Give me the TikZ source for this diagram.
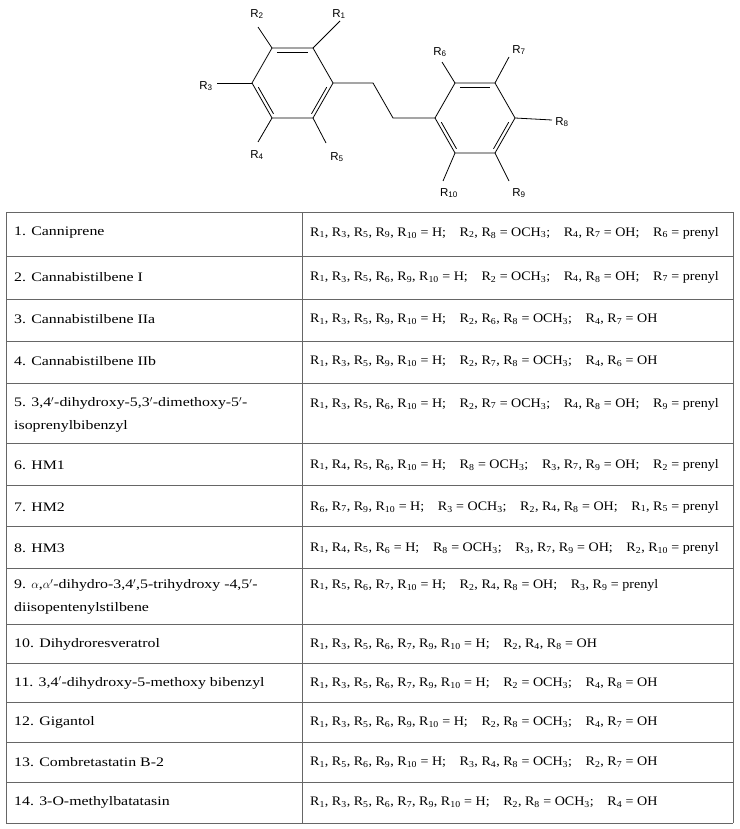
\documentclass[tikz,border=0pt]{standalone}
\usepackage{fontspec}
\usetikzlibrary{calc}
\setmainfont{Liberation Serif}
\newfontfamily\leftfont[FakeStretch=1.22]{Liberation Serif}
\newfontfamily\rightfont[FakeStretch=1.08]{Liberation Serif}
\newfontfamily\chemfont{Liberation Sans}
\newcommand{\Rr}[1]{R\textsubscript{#1}}
\newcommand{\gp}{\hspace{1.05em}}
\begin{document}
\begin{tikzpicture}[x=1pt,y=-1pt,
  bond/.style={line width=0.8pt},
  lab/.style={font=\chemfont\fontsize{11.5}{13}\selectfont, inner sep=0pt},
  cell/.style={anchor=west, font=\leftfont\fontsize{13}{23}\selectfont, inner sep=0pt, align=left},
  rcell/.style={anchor=west, font=\rightfont\fontsize{13}{23}\selectfont, inner sep=0pt, align=left},
  grid/.style={draw=black!60, line width=0.6pt}]
\useasboundingbox (0,0) rectangle (739,829);
% ring A
\coordinate (a1) at (272,48); \coordinate (a2) at (313,48); \coordinate (a3) at (333,83);
\coordinate (a4) at (313,118); \coordinate (a5) at (272,118); \coordinate (a6) at (252,83);
\draw[bond] (a1)--(a2)--(a3)--(a4)--(a5)--(a6)--cycle;
\draw[bond] ($(a1)!0.12!(a2)+(0,4.5)$) -- ($(a1)!0.88!(a2)+(0,4.5)$);
\draw[bond] ($(a3)!0.12!(a4)+(-3.9,0)$) -- ($(a3)!0.88!(a4)+(-3.9,0)$);
\draw[bond] ($(a6)!0.12!(a5)+(3.9,0)$) -- ($(a6)!0.88!(a5)+(3.9,0)$);
% ring B
\coordinate (b1) at (455,83); \coordinate (b2) at (495,83); \coordinate (b3) at (515,118);
\coordinate (b4) at (495,153); \coordinate (b5) at (455,153); \coordinate (b6) at (435,118);
\draw[bond] (b1)--(b2)--(b3)--(b4)--(b5)--(b6)--cycle;
\draw[bond] ($(b1)!0.12!(b2)+(0,4.5)$) -- ($(b1)!0.88!(b2)+(0,4.5)$);
\draw[bond] ($(b3)!0.12!(b4)+(-3.9,0)$) -- ($(b3)!0.88!(b4)+(-3.9,0)$);
\draw[bond] ($(b6)!0.12!(b5)+(3.9,0)$) -- ($(b6)!0.88!(b5)+(3.9,0)$);
% chain
\coordinate (c1) at (373,83); \coordinate (c2) at (393,118);
\draw[bond] (a3)--(c1)--(c2)--(b6);
% labels
\node[lab] (r1) at (339,14) {R\textsubscript{1}};
\node[lab] (r2) at (257,14) {R\textsubscript{2}};
\node[lab] (r3) at (206,86) {R\textsubscript{3}};
\node[lab] (r4) at (257,155) {R\textsubscript{4}};
\node[lab] (r5) at (337,157) {R\textsubscript{5}};
\node[lab] (r6) at (440,52) {R\textsubscript{6}};
\node[lab] (r7) at (519,50) {R\textsubscript{7}};
\node[lab] (r8) at (562,122) {R\textsubscript{8}};
\node[lab] (r9) at (519,193) {R\textsubscript{9}};
\node[lab] (r10) at (449,193) {R\textsubscript{10}};
\draw[bond] (a2)--(340,21); \draw[bond] (a1)--(258,27); \draw[bond] (a6)--(217,83);
\draw[bond] (a5)--(258,142); \draw[bond] (a4)--(326,143);
\draw[bond] (b1)--(442,62); \draw[bond] (b2)--(509,57); \draw[bond] (b3)--(552,120);
\draw[bond] (b4)--(509,181); \draw[bond] (b5)--(443,181);
% table
\foreach \y in {212,256,299,341,383,443,485,526,568,624,663,702,742,782,823}
  \draw[grid] (6,\y) -- (733,\y);
\draw[grid] (6,212)--(6,823); \draw[grid] (302,212)--(302,823); \draw[grid] (733,212)--(733,823);
\def\L{14} \def\Rx{310}
\node[cell] (n1) at (\L,233) {1. Canniprene};
\node[rcell] (v1) at (\Rx,233) {\Rr1, \Rr3, \Rr5, \Rr9, \Rr{10} = H;\gp\Rr2, \Rr8 = OCH\textsubscript3;\gp\Rr4, \Rr7 = OH;\gp\Rr6 = prenyl};
\node[cell] (n2) at (\L,277) {2. Cannabistilbene I};
\node[rcell] (v2) at (\Rx,277) {\Rr1, \Rr3, \Rr5, \Rr6, \Rr9, \Rr{10} = H;\gp\Rr2 = OCH\textsubscript3;\gp\Rr4, \Rr8 = OH;\gp\Rr7 = prenyl};
\node[cell] (n3) at (\L,319) {3. Cannabistilbene IIa};
\node[rcell] (v3) at (\Rx,319) {\Rr1, \Rr3, \Rr5, \Rr9, \Rr{10} = H;\gp\Rr2, \Rr6, \Rr8 = OCH\textsubscript3;\gp\Rr4, \Rr7 = OH};
\node[cell] (n4) at (\L,361) {4. Cannabistilbene IIb};
\node[rcell] (v4) at (\Rx,361) {\Rr1, \Rr3, \Rr5, \Rr9, \Rr{10} = H;\gp\Rr2, \Rr7, \Rr8 = OCH\textsubscript3;\gp\Rr4, \Rr6 = OH};
\node[cell] (n5) at (\L,415) {5. 3,4$'$-dihydroxy-5,3$'$-dimethoxy-5$'$-\\isoprenylbibenzyl};
\node[rcell] (v5) at (\Rx,404) {\Rr1, \Rr3, \Rr5, \Rr6, \Rr{10} = H;\gp\Rr2, \Rr7 = OCH\textsubscript3;\gp\Rr4, \Rr8 = OH;\gp\Rr9 = prenyl};
\node[cell] (n6) at (\L,465) {6. HM1};
\node[rcell] (v6) at (\Rx,465) {\Rr1, \Rr4, \Rr5, \Rr6, \Rr{10} = H;\gp\Rr8 = OCH\textsubscript3;\gp\Rr3, \Rr7, \Rr9 = OH;\gp\Rr2 = prenyl};
\node[cell] (n7) at (\L,507) {7. HM2};
\node[rcell] (v7) at (\Rx,507) {\Rr6, \Rr7, \Rr9, \Rr{10} = H;\gp\Rr3 = OCH\textsubscript3;\gp\Rr2, \Rr4, \Rr8 = OH;\gp\Rr1, \Rr5 = prenyl};
\node[cell] (n8) at (\L,548) {8. HM3};
\node[rcell] (v8) at (\Rx,548) {\Rr1, \Rr4, \Rr5, \Rr6 = H;\gp\Rr8 = OCH\textsubscript3;\gp\Rr3, \Rr7, \Rr9 = OH;\gp\Rr2, \Rr{10} = prenyl};
\node[cell] (n9) at (\L,597) {9. $\alpha$,$\alpha'$-dihydro-3,4$'$,5-trihydroxy -4,5$'$-\\diisopentenylstilbene};
\node[rcell] (v9) at (\Rx,585) {\Rr1, \Rr5, \Rr6, \Rr7, \Rr{10} = H;\gp\Rr2, \Rr4, \Rr8 = OH;\gp\Rr3, \Rr9 = prenyl};
\node[cell] (n10) at (\L,644) {10. Dihydroresveratrol};
\node[rcell] (v10) at (\Rx,644) {\Rr1, \Rr3, \Rr5, \Rr6, \Rr7, \Rr9, \Rr{10} = H;\gp\Rr2, \Rr4, \Rr8 = OH};
\node[cell] (n11) at (\L,683) {11. 3,4$'$-dihydroxy-5-methoxy bibenzyl};
\node[rcell] (v11) at (\Rx,683) {\Rr1, \Rr3, \Rr5, \Rr6, \Rr7, \Rr9, \Rr{10} = H;\gp\Rr2 = OCH\textsubscript3;\gp\Rr4, \Rr8 = OH};
\node[cell] (n12) at (\L,722) {12. Gigantol};
\node[rcell] (v12) at (\Rx,722) {\Rr1, \Rr3, \Rr5, \Rr6, \Rr9, \Rr{10} = H;\gp\Rr2, \Rr8 = OCH\textsubscript3;\gp\Rr4, \Rr7 = OH};
\node[cell] (n13) at (\L,762) {13. Combretastatin B-2};
\node[rcell] (v13) at (\Rx,762) {\Rr1, \Rr5, \Rr6, \Rr9, \Rr{10} = H;\gp\Rr3, \Rr4, \Rr8 = OCH\textsubscript3;\gp\Rr2, \Rr7 = OH};
\node[cell] (n14) at (\L,802) {14. 3-O-methylbatatasin};
\node[rcell] (v14) at (\Rx,802) {\Rr1, \Rr3, \Rr5, \Rr6, \Rr7, \Rr9, \Rr{10} = H;\gp\Rr2, \Rr8 = OCH\textsubscript3;\gp\Rr4 = OH};
\end{tikzpicture}
\end{document}
